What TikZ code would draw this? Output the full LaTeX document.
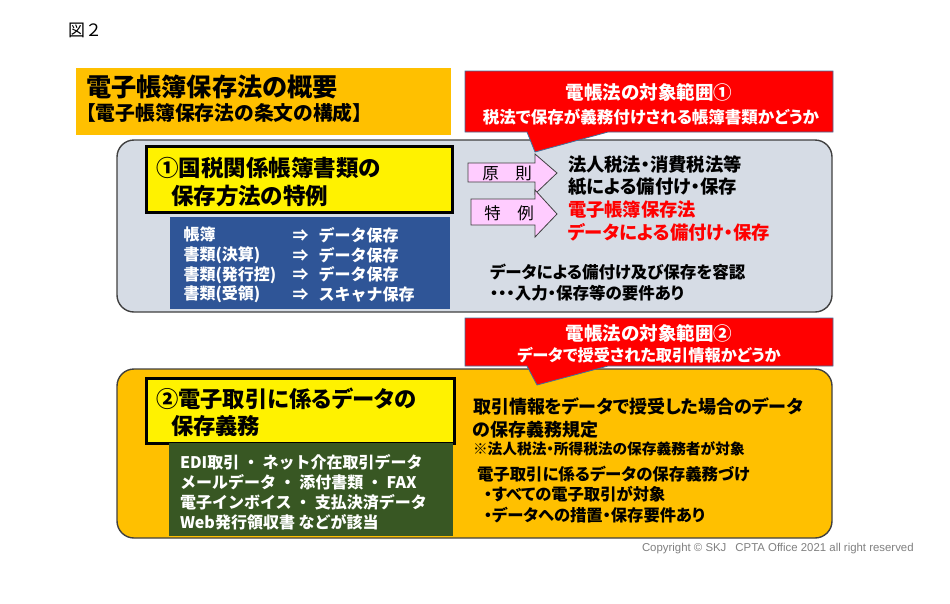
\documentclass[tikz,border=0pt]{standalone}
\usepackage{fontspec}
\setmainfont{Noto Sans CJK JP}[RawFeature=+palt]
\newfontfamily\jpfix{Noto Sans CJK JP}
\newfontfamily\cpfont{Liberation Sans}
\usetikzlibrary{calc,positioning}
\definecolor{tborange}{RGB}{255,192,0}
\definecolor{tbgray}{RGB}{214,220,229}
\definecolor{tbblue}{RGB}{47,85,151}
\definecolor{tbgreen}{RGB}{56,87,35}
\definecolor{tbpink}{RGB}{255,204,255}
\definecolor{tbedge}{RGB}{65,113,156}
\definecolor{tbdark}{RGB}{64,64,64}
\definecolor{cpgray}{RGB}{127,127,127}
\newcommand{\jsz}[2]{\fontsize{#1}{#2}\selectfont}

\begin{document}
\begin{tikzpicture}[x=1pt,y=-1pt,
    every node/.style={inner sep=0pt,outer sep=0pt},
    panel/.style={draw=tbdark,line width=1.4pt,rounded corners=17pt,anchor=north west},
    headbox/.style={draw=black,fill=yellow,line width=3pt,anchor=north west},
    listbox/.style={anchor=north west},
    callout/.style={fill=red,draw=tbedge,line width=0.8pt},
    tagarrow/.style={fill=tbpink,draw=tbdark,line width=0.8pt},
    txt/.style={anchor=west,align=left}]
  \useasboundingbox (0,0) rectangle (950,603);

  \node[txt,font=\jpfix\jsz{17}{20}] (fig) at (68,30.5) {図２};

  % title
  \node[fill=tborange,minimum width=375pt,minimum height=67pt,anchor=north west] (ttl) at (76,68) {};
  \node[txt,font=\jsz{25.2}{28}\bfseries] (ttlmain) at ($(ttl.north west)+(10,19)$) {電子帳簿保存法の概要};
  \node[txt,font=\jsz{19.8}{22}\bfseries] (ttlsub) at ($(ttl.north west)+(10,45)$) {【電子帳簿保存法の条文の構成】};

  % panel 1
  \node[panel,fill=tbgray,minimum width=715pt,minimum height=172pt] (p1) at (117,140) {};
  \node[headbox,minimum width=306pt,minimum height=66pt] (h1) at ($(p1.north west)+(29,6)$) {};
  \node[txt,font=\jsz{22.5}{27.5}\bfseries] (h1t) at ($(h1.north west)+(10,36)$) {①国税関係帳簿書類の\\\hspace{15pt}保存方法の特例};
  \node[listbox,fill=tbblue,minimum width=280pt,minimum height=92pt] (l1) at (170,217) {};
  \begin{scope}[every node/.style={txt,text=white,font=\jpfix\jsz{16}{19.7}\bfseries}]
    \node (l1a) at ($(l1.north west)+(10,48)$) {帳簿\\書類(決算)\\書類(発行控)\\書類(受領)};
    \node (l1b) at ($(l1.north west)+(119,48)$) {⇒\\⇒\\⇒\\⇒};
    \node (l1c) at ($(l1.north west)+(145,48)$) {データ保存\\データ保存\\データ保存\\スキャナ保存};
  \end{scope}

  % 原則 / 特例
  \draw[tagarrow] (468,163) -- ++(67,0) -- ++(0,-9) -- ++(22,19) -- ++(-22,21) -- ++(0,-12) -- ++(-67,0) -- cycle;
  \node[font=\jsz{16.5}{18}] (gen) at (507,173) {原　則};
  \draw[tagarrow] (471,199) -- ++(64,0) -- ++(0,-9) -- ++(22,24) -- ++(-22,23) -- ++(0,-12) -- ++(-64,0) -- cycle;
  \node[font=\jsz{16.5}{18}] (tok) at (509,213) {特　例};

  \node[txt,font=\jsz{18.3}{22.5}\bfseries] (r1) at (568,176) {法人税法・消費税法等\\紙による備付け・保存};
  \node[txt,text=red,font=\jsz{18.3}{23}\bfseries] (r2) at (568,221.5) {電子帳簿保存法\\データによる備付け・保存};
  \node[txt,font=\jsz{16.5}{21}\bfseries] (r3) at (490,282.5) {データによる備付け及び保存を容認\\・・・入力・保存等の要件あり};

  % callout 1
  \node[minimum width=368pt,minimum height=61pt,anchor=north west] (cl1) at (465,71) {};
  \draw[callout] (cl1.north west) -- (cl1.north east) -- (cl1.south east) -- ++(-225,0) -- ++(-73,20) -- ++(-8,-20) -- (cl1.south west) -- cycle;
  \node[text=white,font=\jsz{18.5}{20}\bfseries] (cl1a) at ($(cl1.north)+(0,21.5)$) {電帳法の対象範囲①};
  \node[text=white,font=\jsz{16.5}{18}\bfseries] (cl1b) at ($(cl1.north)+(2,46)$) {税法で保存が義務付けされる帳簿書類かどうか};

  % panel 2
  \node[panel,fill=tborange,minimum width=715pt,minimum height=169pt] (p2) at (117,369) {};
  \node[headbox,minimum width=308pt,minimum height=65pt] (h2) at ($(p2.north west)+(29,9)$) {};
  \node[txt,font=\jsz{22.3}{27}\bfseries] (h2t) at ($(h2.north west)+(10,34.5)$) {②電子取引に係るデータの\\\hspace{15pt}保存義務};
  \node[listbox,fill=tbgreen,minimum width=284pt,minimum height=93pt] (l2) at (169,443) {};
  \node[txt,text=white,font=\jpfix\jsz{16}{20}\bfseries] (l2t) at ($(l2.north west)+(11,49)$) {EDI取引 ・ ネット介在取引データ\\メールデータ ・ 添付書類 ・ FAX\\電子インボイス ・ 支払決済データ\\Web発行領収書 などが該当};

  \node[txt,font=\jsz{18}{23}\bfseries] (s1) at (473,418.5) {取引情報をデータで授受した場合のデータ\\の保存義務規定};
  \node[txt,font=\jsz{14.7}{16}\bfseries] (s2) at (473,449) {※法人税法・所得税法の保存義務者が対象};
  \node[txt,font=\jsz{16.4}{18}\bfseries] (s3) at (477,474) {電子取引に係るデータの保存義務づけ};
  \node[txt,font=\jsz{16.3}{21}\bfseries] (s4) at (484,504.5) {・すべての電子取引が対象\\・データへの措置・保存要件あり};

  % callout 2
  \node[minimum width=368pt,minimum height=48pt,anchor=north west] (cl2) at (465,318) {};
  \draw[callout] (cl2.north west) -- (cl2.north east) -- (cl2.south east) -- ++(-225,0) -- ++(-71,19) -- ++(-10,-19) -- (cl2.south west) -- cycle;
  \node[text=white,font=\jsz{18.5}{20}\bfseries] (cl2a) at ($(cl2.north)+(0,15)$) {電帳法の対象範囲②};
  \node[text=white,font=\jsz{16.2}{18}\bfseries] (cl2b) at ($(cl2.north)+(0,37)$) {データで授受された取引情報かどうか};

  \node[txt,text=cpgray,font=\cpfont\jsz{11.4}{13}] (cprt) at (642,549) {Copyright © SKJ\hspace{9pt}CPTA Office 2021 all right reserved};
\end{tikzpicture}
\end{document}
